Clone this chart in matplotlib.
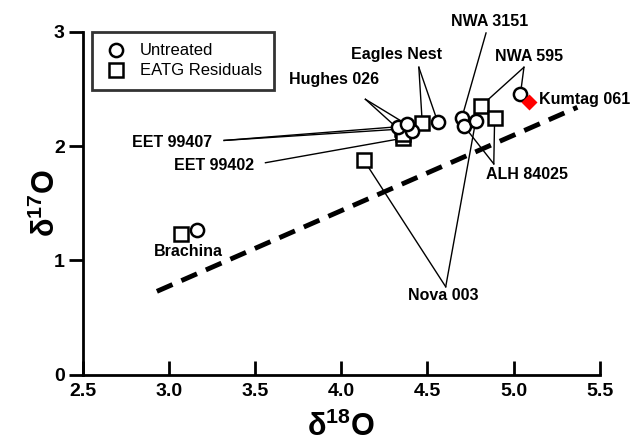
import matplotlib
matplotlib.use("Agg")
import matplotlib.pyplot as plt

plt.rcParams["font.family"] = ["Liberation Sans", "DejaVu Sans"]
plt.rcParams["mathtext.fontset"] = "custom"
plt.rcParams["mathtext.rm"] = "Liberation Sans:bold"
plt.rcParams["mathtext.it"] = "Liberation Sans:bold"
plt.rcParams["mathtext.bf"] = "Liberation Sans:bold"

# 未處理（圓）
untreated_names = ["Brachina", "EET 99407", "EET 99402", "Hughes 026", "Eagles Nest",
                   "NWA 3151", "ALH 84025", "Nova 003", "NWA 595"]
untreated_d18 = [3.16, 4.33, 4.41, 4.38, 4.56, 4.70, 4.71, 4.78, 5.04]
untreated_d17 = [1.27, 2.17, 2.13, 2.19, 2.21, 2.25, 2.18, 2.22, 2.46]

# EATG 殘餘（方）
eatg_names = ["Brachina", "Nova 003", "EET 99407", "EET 99402", "Hughes 026",
              "Eagles Nest", "NWA 595", "ALH 84025"]
eatg_d18 = [3.07, 4.13, 4.35, 4.36, 4.36, 4.47, 4.81, 4.89]
eatg_d17 = [1.23, 1.88, 2.15, 2.07, 2.11, 2.20, 2.35, 2.25]

kumtag_d18, kumtag_d17 = [5.09], [2.39]

# 虛線參考線端點
line_d18 = [2.93, 5.37]
line_d17 = [0.73, 2.34]

# 標籤：文字位置、引線起點、連到哪些點（u=圓, e=方）
labels = [
    ("NWA 3151", (4.86, 3.09), (4.84, 2.99), ["u"]),
    ("NWA 595", (5.09, 2.78), (5.06, 2.69), ["u", "e"]),
    ("Eagles Nest", (4.32, 2.80), (4.45, 2.69), ["u", "e"]),
    ("Hughes 026", (3.96, 2.58), (4.14, 2.41), ["u", "e"]),
    ("EET 99407", (3.02, 2.03), (3.32, 2.05), ["u", "e"]),
    ("EET 99402", (3.26, 1.83), (3.56, 1.855), ["e"]),
    ("ALH 84025", (5.08, 1.75), (4.885, 1.845), ["u", "e"]),
    ("Nova 003", (4.59, 0.69), (4.606, 0.77), ["u", "e"]),
    ("Brachina", (3.115, 1.076), None, []),
]

fig = plt.figure(figsize=(6.32, 4.42), dpi=100)
ax = fig.add_axes([0.131, 0.152, 0.818, 0.776])

ax.plot(line_d18, line_d17, color="black", lw=3.5, dashes=(3.5, 2), zorder=2)

for name, txt, start, targets in labels:
    ax.text(txt[0], txt[1], name, ha="center", va="center", fontsize=11.5,
            fontweight="bold", zorder=6)
    for t in targets:
        if t == "u":
            i = untreated_names.index(name)
            px, py = untreated_d18[i], untreated_d17[i]
        else:
            i = eatg_names.index(name)
            px, py = eatg_d18[i], eatg_d17[i]
        ax.plot([start[0], px], [start[1], py], color="black", lw=1.0, zorder=3)

ax.text(5.15, 2.405, "Kumtag 061", ha="left", va="center", fontsize=11.5,
        fontweight="bold")

ax.plot(eatg_d18, eatg_d17, "s", ms=9.5, mfc="white", mec="black", mew=1.8,
        ls="none", zorder=4, label="EATG Residuals")
ax.plot(untreated_d18, untreated_d17, "o", ms=9.5, mfc="white", mec="black",
        mew=1.8, ls="none", zorder=5, label="Untreated")
ax.plot(kumtag_d18, kumtag_d17, "D", ms=8, color="red", mec="none", zorder=5)

h, l = ax.get_legend_handles_labels()
leg = ax.legend(h[::-1], l[::-1], loc="upper left", bbox_to_anchor=(0.017, 1.0),
                borderaxespad=0, fancybox=False, edgecolor="black", fontsize=12,
                handletextpad=0.7, borderpad=0.7, labelspacing=0.3,
                handlelength=1.5, markerscale=1.0)
leg.get_frame().set_linewidth(2)

ax.set_xlim(2.5, 5.5)
ax.set_ylim(0, 3)
ax.set_xticks([2.5, 3.0, 3.5, 4.0, 4.5, 5.0, 5.5])
ax.set_xticklabels(["2.5", "3.0", "3.5", "4.0", "4.5", "5.0", "5.5"])
ax.set_yticks([0, 1, 2, 3])
for s in ["top", "right"]:
    ax.spines[s].set_visible(False)
for s in ["left", "bottom"]:
    ax.spines[s].set_linewidth(2)
ax.tick_params(axis="x", direction="in", length=10, width=2, pad=6, labelsize=14)
ax.tick_params(axis="y", direction="out", length=10, width=2, pad=3, labelsize=14)
for lab in ax.get_xticklabels() + ax.get_yticklabels():
    lab.set_fontweight("bold")

ax.set_xlabel("δ$^{18}$O", fontsize=22, fontweight="bold", labelpad=8)
ax.set_ylabel("δ$^{17}$O", fontsize=22, fontweight="bold", labelpad=-6)

fig.savefig("out.png", dpi=100)
